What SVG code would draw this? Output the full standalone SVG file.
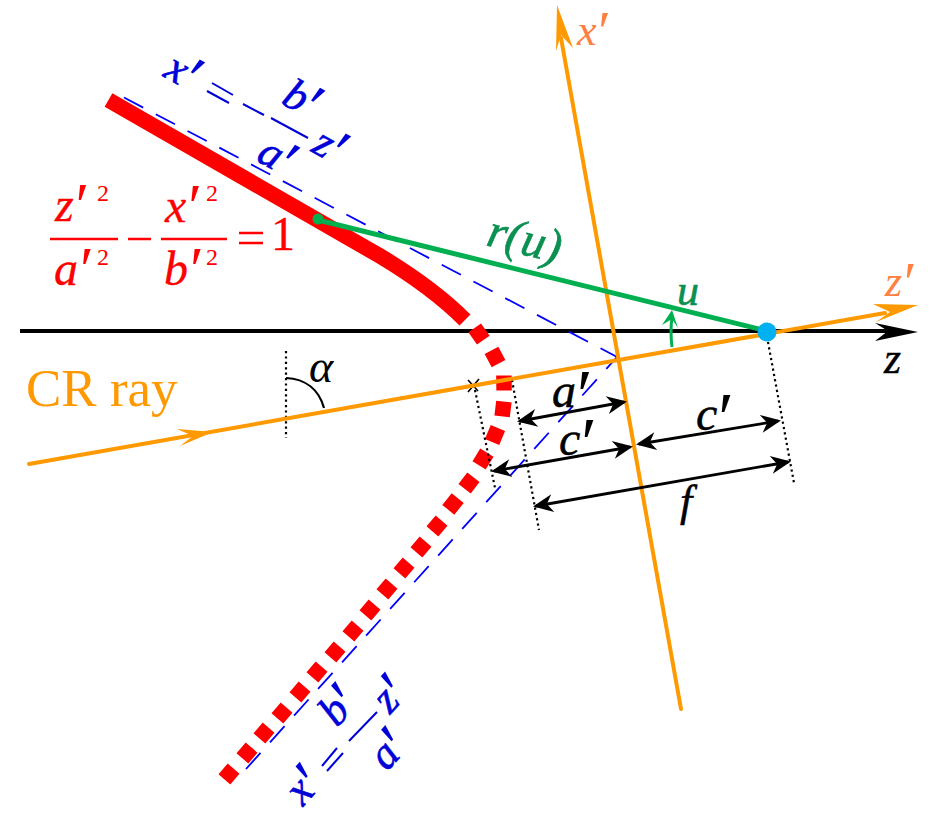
<svg xmlns="http://www.w3.org/2000/svg" width="937" height="825" viewBox="0 0 937 825">
<style>
text{font-family:"Liberation Serif","Times New Roman",serif;font-style:italic}
.b{fill:#0000d8;stroke:#0000d8;stroke-width:.6;font-size:44px}
.r{fill:#ff0000;stroke:#ff0000;stroke-width:.3;font-size:48px}
.r2{fill:#ff0000;font-size:24px;font-style:normal}
.k{fill:#000;stroke:#000;stroke-width:.5;font-size:48px}
.o{fill:#ff8040;font-size:44px}
.g{fill:#0a9050;stroke:#0a9050;stroke-width:.6}
.p{font-size:1.5em;stroke:none}
.p2{font-size:1.3em;stroke:none}
.fr{stroke:#ff0000;stroke-width:2.5;fill:none}
.fb{stroke:#0000d8;stroke-width:2;fill:none}
.dash{stroke:#0000ff;stroke-width:1.8;fill:none;stroke-dasharray:21.7 14.2}
.dot{stroke:#000;stroke-width:2.2;fill:none;stroke-dasharray:2.2 3.2}
.dim{stroke:#000;stroke-width:2.8;fill:none;marker-start:url(#bar);marker-end:url(#bar)}
.or{stroke:#ff9900;stroke-width:4;fill:none;stroke-linecap:round}
</style>
<defs>
<marker id="bar" markerUnits="userSpaceOnUse" markerWidth="24" markerHeight="24" orient="auto-start-reverse" overflow="visible">
<path d="M-17,-9 L3,0 L-17,9 L-11,0Z" fill="#000"/>
</marker>
</defs>
<line x1="20" y1="331" x2="895" y2="331" stroke="#000" stroke-width="4"/>
<polygon points="918,332 875,323 888,331 875,341" fill="#000"/>
<path d="M108.5,100 L380,256 C410,274 440,295 465,320" stroke="#ff0000" stroke-width="15.5" fill="none"/>
<path stroke="#ff0000" stroke-width="15.5" fill="none" d="M474.7,327.9L483.3,340.1M491.5,350.4L498.5,363.6M503.9,375.5L504.1,390.5M503.9,401.6L502.1,416.4M497.9,428L492.1,442M486.9,452.6L479.1,465.4M473.4,477.3L464.6,488.7M457.7,498.2L448.3,509.8M441.6,520.6L432.4,531.4M425.6,541.6L416.4,552.4M408.6,562.6L399.4,573.4M391.6,583.6L382.4,594.4M374.6,604.6L365.4,615.4M357.6,625.6L348.4,636.4M339.6,646.6L330.4,657.4M321.6,666.6L312.4,677.4M304.6,686.6L295.4,697.4M286.6,707.6L277.4,718.4M268.6,727.6L259.4,738.4M251.6,747.6L242.4,758.4M233.6,768.6L224.4,779.4"/>
<line class="dash" x1="124" y1="97.5" x2="618" y2="357.5"/>
<line class="dash" x1="246" y1="769" x2="617" y2="357"/>
<g id="dotted">
<line class="dot" x1="286" y1="351" x2="286" y2="438"/>
<line class="dot" x1="475" y1="390" x2="495" y2="488"/>
<line class="dot" x1="512" y1="380" x2="539" y2="530"/>
<line class="dot" x1="768" y1="342" x2="794" y2="483"/>
</g>
<path d="M468,380L478,391M479,379L468,392" stroke="#000" stroke-width="1.6" fill="none"/>
<path d="M286,378 C306,379 319,390 324,408" stroke="#000" stroke-width="2.2" fill="none"/>
<line class="or" x1="29" y1="464" x2="885" y2="313"/>
<polygon points="918,305 873,304 890,312 876,322" fill="#ff9900"/>
<polygon points="213,432 177,429 193,436 180,446" fill="#ff9900"/>
<line class="or" x1="681" y1="709" x2="561" y2="38"/>
<polygon points="557,5 556,51 561,35 573,48" fill="#ff9900"/>
<line x1="318" y1="220" x2="767" y2="331" stroke="#00b050" stroke-width="5"/>
<circle cx="318" cy="219" r="5.5" fill="#00b050"/>
<path d="M672,347 Q670,330 672,318" stroke="#00b050" stroke-width="3" fill="none"/>
<polygon points="672,310 662,325 672,319 678,328" fill="#00b050"/>
<circle cx="767" cy="332" r="9.5" fill="#00b0f0"/>
<g id="dims">
<line class="dim" x1="520" y1="421" x2="624" y2="402"/>
<line class="dim" x1="494" y1="471" x2="630" y2="447"/>
<line class="dim" x1="639" y1="444" x2="778" y2="421"/>
<line class="dim" x1="536" y1="506" x2="788" y2="462"/>
</g>
<g id="labels">
<text x="552" y="407" class="k">a<tspan class="p" dy=".16em" dx="-.05em">′</tspan></text>
<text x="559" y="455" class="k">c<tspan class="p" dy=".16em" dx="-.05em">′</tspan></text>
<text x="696" y="430" class="k">c<tspan class="p" dy=".16em" dx="-.05em">′</tspan></text>
<text x="680" y="516" class="k" style="font-size:44px">f</text>
<text x="884" y="373" fill="#000" stroke="#000" stroke-width=".4" font-size="44">z</text>
<text x="309" y="382" fill="#000" font-size="46">α</text>
<text x="885" y="296" class="o">z<tspan class="p2" dy=".1em" dx="-.03em">′</tspan></text>
<text x="577" y="45" class="o">x<tspan class="p2" dy=".1em" dx="-.03em">′</tspan></text>
<text x="677" y="305" class="g" font-size="44">u</text>
<text transform="translate(485,245) rotate(14)" class="g" font-size="48">r(u)</text>
<text x="26" y="406" fill="#ff9900" font-size="53" style="font-style:normal">CR ray</text>
</g>
<g id="eq-red">
<text x="55" y="221" class="r">z<tspan class="p2" dy=".1em" dx="-.03em">′</tspan></text><text x="97" y="201" class="r2">2</text>
<text x="54" y="285" class="r">a<tspan class="p2" dy=".1em" dx="-.03em">′</tspan></text><text x="97" y="265" class="r2">2</text>
<path class="fr" d="M50,239H118M128,239H151M161,239H227M239,233H263M239,243H263"/>
<text x="165" y="222" class="r">x<tspan class="p2" dy=".1em" dx="-.03em">′</tspan></text><text x="206" y="201" class="r2">2</text>
<text x="164" y="285" class="r">b<tspan class="p2" dy=".1em" dx="-.03em">′</tspan></text><text x="206" y="265" class="r2">2</text>
<text x="271" y="250" class="r" style="font-style:normal">1</text>
</g>
<g id="eq-top">
<text transform="translate(162,76) rotate(29)" class="b">x<tspan class="p" dy=".16em" dx="-.05em">′</tspan></text>
<path class="fb" d="M212,83L233,95M207,91L229,103M243,104L264,115M271,118L308,138"/>
<text transform="translate(280,103) rotate(29)" class="b">b<tspan class="p" dy=".16em" dx="-.05em">′</tspan></text>
<text transform="translate(255,160) rotate(29)" class="b">a<tspan class="p" dy=".16em" dx="-.05em">′</tspan></text>
<text transform="translate(310,151) rotate(29)" class="b">z<tspan class="p" dy=".16em" dx="-.05em">′</tspan></text>
</g>
<g id="eq-bottom">
<text transform="translate(303,807) rotate(-48)" class="b">x<tspan class="p" dy=".16em" dx="-.05em">′</tspan></text>
<path class="fb" d="M322,766L337,748M327,771L343,753M349,741L377,712"/>
<text transform="translate(337,728) rotate(-48)" class="b">b<tspan class="p" dy=".16em" dx="-.05em">′</tspan></text>
<text transform="translate(387,772) rotate(-48)" class="b">a<tspan class="p" dy=".16em" dx="-.05em">′</tspan></text>
<text transform="translate(390,715) rotate(-48)" class="b">z<tspan class="p" dy=".16em" dx="-.05em">′</tspan></text>
</g>
</svg>
